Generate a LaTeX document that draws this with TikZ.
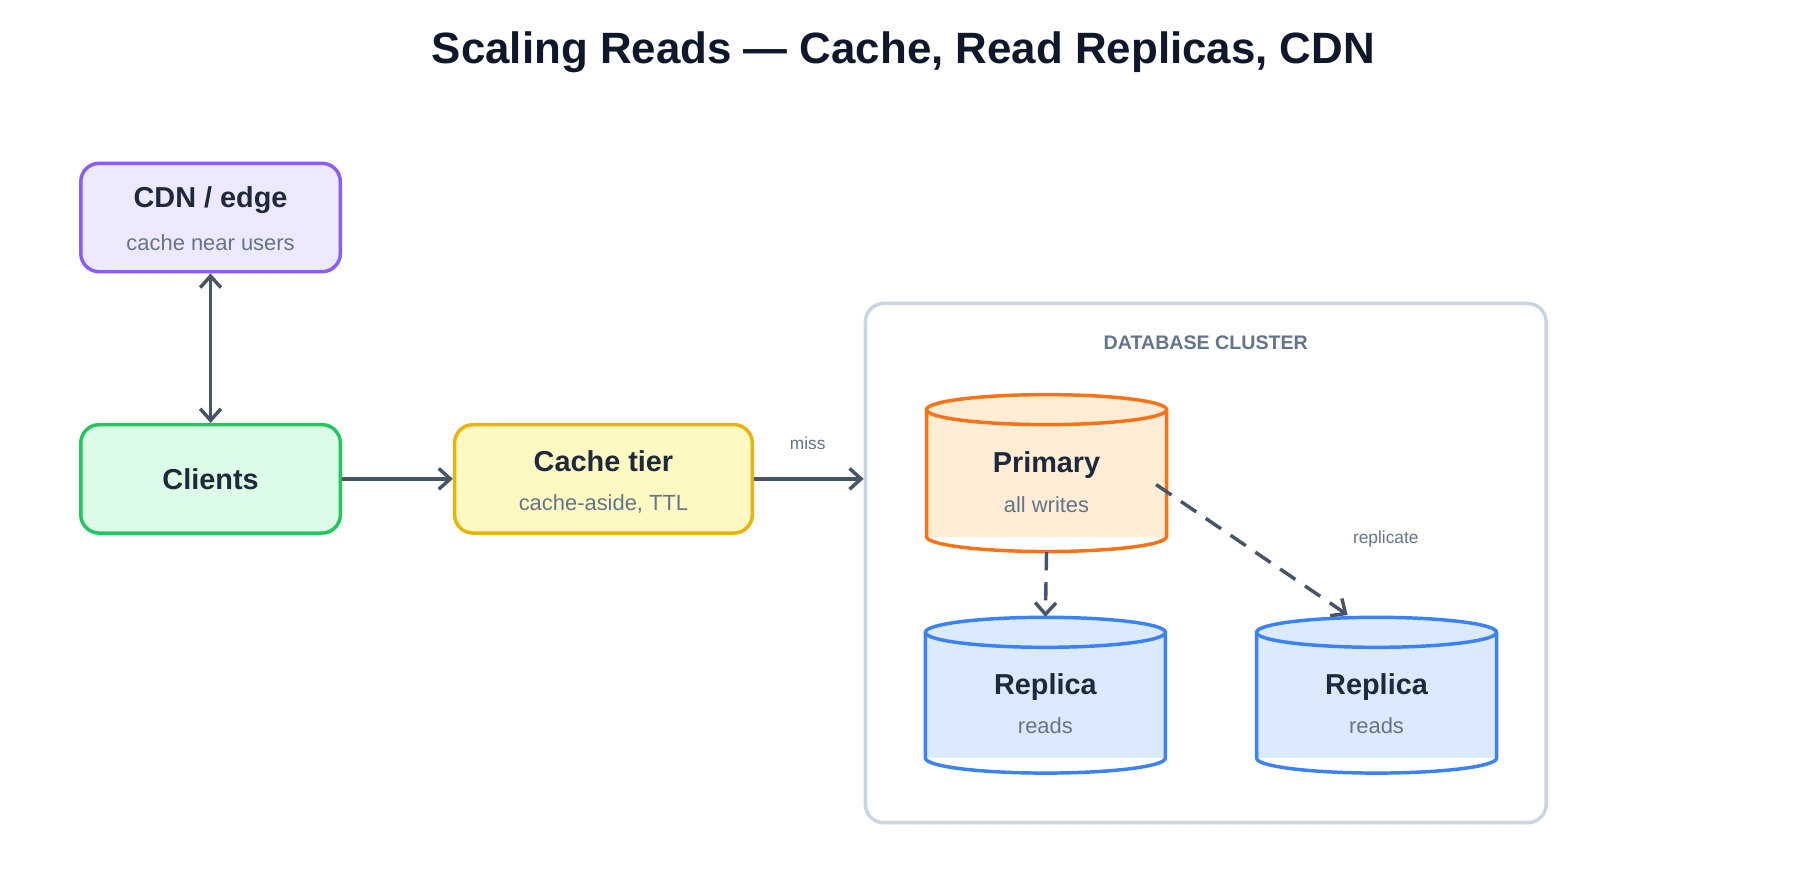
\documentclass[tikz,border=0pt]{standalone}
\usepackage{fontspec}
\setmainfont{Liberation Sans}
\usetikzlibrary{arrows.meta}
\definecolor{ink}{HTML}{0F172A}
\definecolor{dark}{HTML}{1E293B}
\definecolor{sub}{HTML}{64748B}
\definecolor{edge}{HTML}{475569}
\begin{document}
\begin{tikzpicture}[x=0.5pt,y=-0.5pt,
  box/.style={draw,line width=1.5pt,rounded corners=8pt,minimum width=112.5pt,minimum height=47pt},
  ttl/.style={font=\bfseries\fontsize{12.5}{14}\selectfont,text=dark},
  sb/.style={font=\fontsize{9.5}{11}\selectfont,text=sub},
  lbl/.style={font=\fontsize{7.5}{9}\selectfont,text=sub},
  arr/.style={draw=edge,line width=1.5pt,-{Straight Barb[length=5pt,width=9pt]}},
  darr/.style={arr,dash pattern=on 8pt off 5pt}]
\useasboundingbox (0,0) rectangle (1560,762);
\fill[white] (0,0) rectangle (1560,762);
\node[font=\bfseries\fontsize{19}{22}\selectfont,text=ink] (title) at (783,45) {Scaling Reads — Cache, Read Replicas, CDN};
% cluster
\node[draw={rgb,255:red,203;green,213;blue,225},line width=1.5pt,rounded corners=8pt,minimum width=295pt,minimum height=225pt] (cluster) at (1045,488) {};
\node[font=\bfseries\fontsize{8.5}{10}\selectfont,text=sub] (cl) at (1045,297) {DATABASE CLUSTER};
% boxes
\node[box,draw={rgb,255:red,139;green,92;blue,246},fill={rgb,255:red,237;green,233;blue,254}] (cdn) at (182.5,188.5) {};
\node[ttl] at (182.5,173) {CDN / edge};
\node[sb] at (182.5,210) {cache near users};
\node[box,draw={rgb,255:red,34;green,197;blue,94},fill={rgb,255:red,220;green,252;blue,231}] (cli) at (182.5,415) {};
\node[ttl] at (182.5,415) {Clients};
\node[box,minimum width=129pt,draw={rgb,255:red,234;green,179;blue,8},fill={rgb,255:red,254;green,249;blue,195}] (cache) at (523,415) {};
\node[ttl] at (523,400) {Cache tier};
\node[sb] at (523,437) {cache-aside, TTL};
% cylinders
\newcommand{\cyl}[8]{%
  \fill[#6] (#1-#4,#2) rectangle (#1+#4,#3);
  \draw[#5,line width=1.5pt,fill=#6] (#1,#2) ellipse [x radius=#4,y radius=13];
  \draw[#5,line width=1.5pt] (#1-#4,#2) -- (#1-#4,#3) arc[start angle=180,end angle=0,x radius=#4,y radius=13] -- (#1+#4,#2);
  \node[minimum width=#4pt,minimum height=(#3-#2+26)*0.5pt] (#7) at (#1,{(#2+#3)/2}) {};
  \node[ttl] at (#1,{(#2+#3)/2-7}) {#8};}
\definecolor{og}{HTML}{F97316}\definecolor{ogf}{HTML}{FFEDD5}
\definecolor{bl}{HTML}{3B82F6}\definecolor{blf}{HTML}{DBEAFE}
\cyl{907}{355}{465}{104}{og}{ogf}{pri}{Primary}
\node[sb] at (907,437) {all writes};
\cyl{906}{548}{657}{104}{bl}{blf}{rep1}{Replica}
\node[sb] at (906,629) {reads};
\cyl{1193}{548}{657}{104}{bl}{blf}{rep2}{Replica}
\node[sb] at (1193,629) {reads};
% arrows
\draw[draw=edge,line width=1.5pt,{Straight Barb[length=5pt,width=9pt]}-{Straight Barb[length=5pt,width=9pt]}] (cdn.south) -- (cli.north);
\draw[arr] (cli.east) -- (cache.west);
\draw[arr] (cache.east) -- (cluster.west|-cache.east);
\node[lbl] (miss) at (700,384) {miss};
\draw[darr] (pri.south) -- (rep1.north);
\coordinate (rs) at (1002,420);
\draw[darr] (rs) -- (1168,533);
\node[lbl] (repl) at (1201,467) {replicate};
\end{tikzpicture}
\end{document}
